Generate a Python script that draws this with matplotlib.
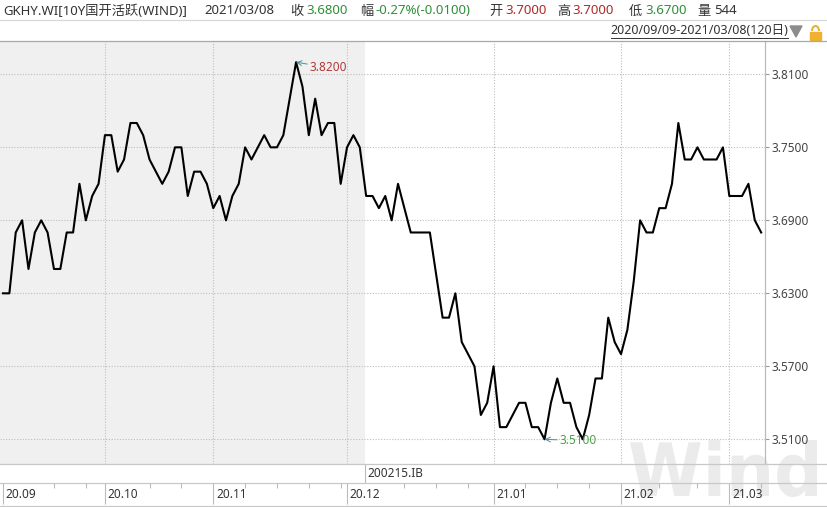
import numpy as np
import matplotlib
matplotlib.use("Agg")
import matplotlib.pyplot as plt
from matplotlib.lines import Line2D
from matplotlib.patches import Polygon, Rectangle, Arc, PathPatch
from matplotlib.textpath import TextPath
from matplotlib.font_manager import FontProperties
from matplotlib.transforms import Affine2D

plt.rcParams['font.family'] = ['Noto Sans', 'Noto Sans CJK SC', 'DejaVu Sans']

# ── 数据 ──
yields = [3.63, 3.63, 3.68, 3.69, 3.65, 3.68, 3.69, 3.68, 3.65, 3.65,
          3.68, 3.68, 3.72, 3.69, 3.71, 3.72, 3.76, 3.76, 3.73, 3.74,
          3.77, 3.77, 3.76, 3.74, 3.73, 3.72, 3.73, 3.75, 3.75, 3.71,
          3.73, 3.73, 3.72, 3.70, 3.71, 3.69, 3.71, 3.72, 3.75, 3.74,
          3.75, 3.76, 3.75, 3.75, 3.76, 3.79, 3.82, 3.80, 3.76, 3.79,
          3.76, 3.77, 3.77, 3.72, 3.75, 3.76, 3.75, 3.71, 3.71, 3.70,
          3.71, 3.69, 3.72, 3.70, 3.68, 3.68, 3.68, 3.68, 3.645, 3.61,
          3.61, 3.63, 3.59, 3.58, 3.57, 3.53, 3.54, 3.57, 3.52, 3.52,
          3.53, 3.54, 3.54, 3.52, 3.52, 3.51, 3.54, 3.56, 3.54, 3.54,
          3.52, 3.51, 3.53, 3.56, 3.56, 3.61, 3.59, 3.58, 3.60, 3.64,
          3.69, 3.68, 3.68, 3.70, 3.70, 3.72, 3.77, 3.74, 3.74, 3.75,
          3.74, 3.74, 3.74, 3.75, 3.71, 3.71, 3.71, 3.72, 3.69, 3.68]
month_starts = [0, 16, 33, 54, 77, 97, 114]
month_labels = ['20.09', '20.10', '20.11', '20.12', '21.01', '21.02', '21.03']
week_starts = [8, 13, 23, 28, 38, 43, 48, 53, 63, 68, 73, 82, 87, 92, 103, 109, 119]
y_ticks = [3.51, 3.57, 3.63, 3.69, 3.75, 3.81]
roll_pos = 56.8          # 切换到 200215.IB 的位置
roll_code = '200215.IB'

x = np.arange(len(yields))
y = np.array(yields)
i_max = int(np.argmax(y))
i_min = int(np.argmin(y))

W, H = 828, 507
def fx(px): return px / W
def fy(py): return 1 - py / H

DARK = '#333333'
GREEN = '#2f8f3a'
RED = '#b02a2a'
LINEC = '#c8c8c8'

fig = plt.figure(figsize=(W / 100, H / 100), dpi=100)
fig.patch.set_facecolor('white')

# ── 水印 (放在最底层) ──
fp = FontProperties(family='DejaVu Sans', weight='bold')
tp = TextPath((0, 0), 'Wind', size=1, prop=fp)
ext = tp.get_extents()
sx = 187 / ext.width
sy = 57 / ext.height
tr = (Affine2D().translate(-ext.x0, -ext.y0).scale(sx / 100, sy / 100)
      .translate(630 / 100, (H - 497) / 100) + fig.dpi_scale_trans)
fig.add_artist(PathPatch(tp, transform=tr, facecolor='#ebebeb',
                         edgecolor='none', zorder=-5))

# ── 主图 ──
ax = fig.add_axes([0, fy(464), fx(765), (464 - 41) / H])
ax.set_facecolor('none')
ax.set_xlim(-0.47, 119.6)
ax.set_ylim(3.4897, 3.8374)
ax.axvspan(-1, roll_pos, color='#f0f0f0', lw=0, zorder=0)
ax.plot(x, y, color='black', lw=1.5, zorder=3)

for v in y_ticks:
    ax.axhline(v, color='#bdbdbd', lw=0.8, ls=(0, (1, 1.5)), zorder=1)
for m in month_starts[1:]:
    ax.axvline(m, color='#bdbdbd', lw=0.8, ls=(0, (1, 1.5)), zorder=1)

ax.yaxis.tick_right()
ax.set_yticks(y_ticks)
ax.set_yticklabels([f'{v:.4f}' for v in y_ticks])
ax.tick_params(axis='y', length=3, width=0.8, color='#999999', pad=1.5,
               labelsize=8.5, labelcolor='#444444')
ax.set_xticks([])
for s in ['left', 'top', 'bottom']:
    ax.spines[s].set_visible(False)
ax.spines['right'].set_color('#bbbbbb')
ax.spines['right'].set_linewidth(0.9)

ax.annotate(f'{y[i_max]:.4f}', xy=(x[i_max], y[i_max]), xytext=(10, -4),
            textcoords='offset points', ha='left', va='center', fontsize=8.5,
            color='#b03a3a', zorder=5,
            arrowprops=dict(arrowstyle='->', color='#4a8fa0', lw=0.7,
                            shrinkA=0, shrinkB=0))
ax.annotate(f'{y[i_min]:.4f}', xy=(x[i_min], y[i_min]), xytext=(11, -1),
            textcoords='offset points', ha='left', va='center', fontsize=8.5,
            color='#4aa04a', zorder=5,
            arrowprops=dict(arrowstyle='->', color='#4a8fa0', lw=0.7,
                            shrinkA=0, shrinkB=0))

# ── 合约切换行 ──
ax_r = fig.add_axes([0, fy(483), fx(765), (483 - 464) / H])
ax_r.set_facecolor('none')
ax_r.set_xlim(ax.get_xlim())
ax_r.set_ylim(0, 1)
ax_r.axis('off')
ax_r.axvline(roll_pos, color='#bbbbbb', lw=0.8)
ax_r.annotate(roll_code, xy=(roll_pos, 0.5), xytext=(1.5, 0),
              textcoords='offset points', ha='left', va='center',
              fontsize=8.5, color=DARK)

# ── 日期行 ──
ax_d = fig.add_axes([0, fy(506), fx(765), (506 - 483) / H])
ax_d.set_facecolor('none')
ax_d.set_xlim(ax.get_xlim())
ax_d.set_ylim(0, 1)
ax_d.axis('off')
ax_d.vlines(month_starts, 0.1, 1, color='#bbbbbb', lw=0.8)
ax_d.vlines(week_starts, 0.8, 1, color='#bbbbbb', lw=0.8)
for m, lab in zip(month_starts, month_labels):
    ax_d.annotate(lab, xy=(m, 0.5), xytext=(2, 0), textcoords='offset points',
                  ha='left', va='center', fontsize=8.5, color=DARK)

# ── 分隔线 ──
for py, c in [(20, '#d8d8d8'), (41, '#a8a8a8'), (464, LINEC),
              (483, LINEC), (506, LINEC)]:
    fig.add_artist(Line2D([0, 1], [fy(py), fy(py)], color=c, lw=0.9))

# ── 标题行 ──
header = [(3, 'GKHY.WI[10Y国开活跃(WIND)]', DARK),
          (204, '2021/03/08', DARK),
          (290, '收', DARK), (306, '3.6800', GREEN),
          (360, '幅', DARK), (376, '-0.27%(-0.0100)', GREEN),
          (489, '开', DARK), (505, '3.7000', RED),
          (557, '高', DARK), (572, '3.7000', RED),
          (629, '低', DARK), (645, '3.6700', GREEN),
          (697, '量', DARK), (714, '544', DARK)]
for px, txt, c in header:
    fig.text(fx(px), fy(11), txt, ha='left', va='center', fontsize=9.5, color=c)

fig.text(fx(788), fy(31), '2020/09/09-2021/03/08(120日)', ha='right',
         va='center', fontsize=9, color=DARK)
fig.add_artist(Line2D([fx(611), fx(788)], [fy(38), fy(38)], color=DARK, lw=0.7))
fig.add_artist(Polygon([[fx(790), fy(26)], [fx(802), fy(26)], [fx(796), fy(37)]],
                       closed=True, color='#8c8c8c', transform=fig.transFigure))
fig.add_artist(Rectangle((fx(810), fy(40)), fx(11), 8 / H, color='#f0b030',
                         transform=fig.transFigure))
fig.add_artist(Arc((fx(815.5), fy(31)), fx(7), 10 / H, theta1=0, theta2=180,
                   color='#f0b030', lw=1.5, transform=fig.transFigure))

fig.savefig('out.png', dpi=100)
